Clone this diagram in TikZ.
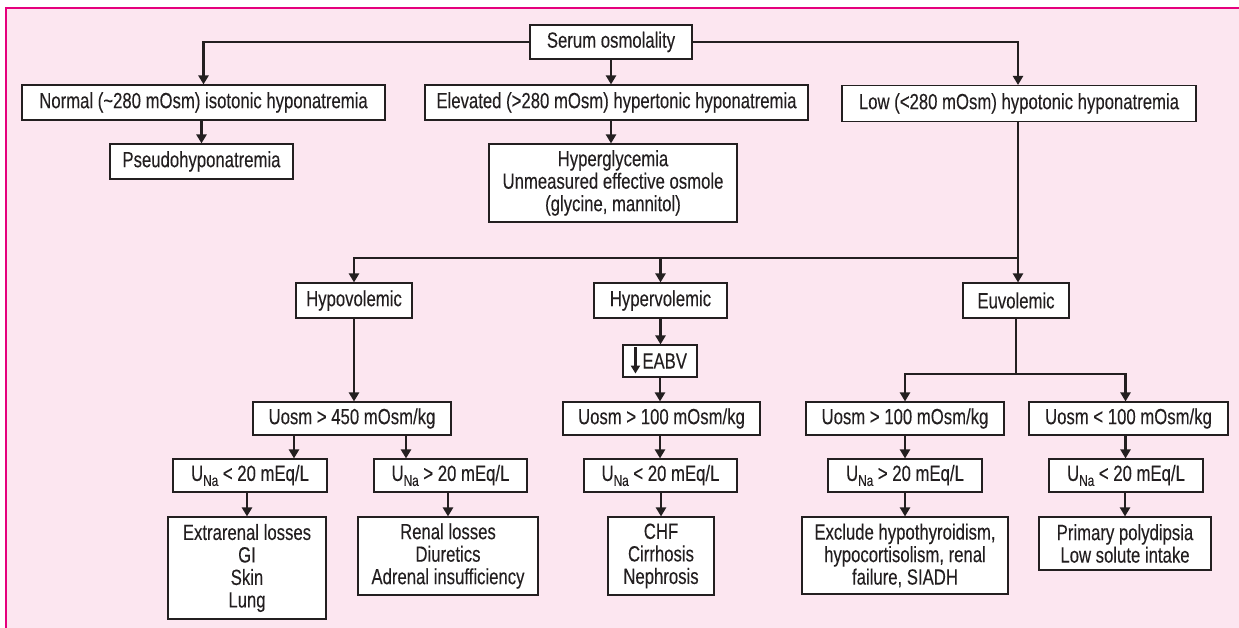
\documentclass[tikz,border=0pt]{standalone}
\usepackage{fontspec}
\setmainfont{Liberation Sans}[FakeStretch=0.76, FakeBold=0.15]
\usetikzlibrary{arrows.meta}
\definecolor{framepink}{HTML}{E5007D}
\definecolor{bgpink}{HTML}{FCE6F0}
\definecolor{ink}{HTML}{231F20}
% urinary sodium with a lowered "Na"
\newcommand{\Una}{U\raisebox{-5pt}{\fontsize{15.5}{16}\selectfont Na}}

\begin{document}
\begin{tikzpicture}[x=1pt,y=-1pt,
  box/.style={draw=ink, line width=1.1pt, fill=white, text=ink, inner sep=0pt,
              align=center, font=\fontsize{22}{22.5}\selectfont},
  link/.style={draw=ink, line width=2.4pt},
  arr/.style={link, -{Triangle[length=9pt,width=10pt]}},
]
\useasboundingbox (0,0) rectangle (1239,628);

% panel
\fill[bgpink] (6,8) rectangle (1239,628);
\draw[framepink, line width=2pt] (6,628) -- (6,8) -- (1239,8);

% first level
\node[box, minimum width=162pt, minimum height=34pt] (serum) at (611,42) {Serum osmolality};
\node[box, minimum width=363pt, minimum height=35pt] (normal) at (203.5,102.5) {Normal (\textasciitilde280 mOsm) isotonic hyponatremia};
\node[box, minimum width=383pt, minimum height=35pt] (elev) at (616.5,102.5) {Elevated (>280 mOsm) hypertonic hyponatremia};
\node[box, minimum width=354pt, minimum height=36pt] (low) at (1019,103.5) {Low (<280 mOsm) hypotonic hyponatremia};

\node[box, minimum width=183pt, minimum height=35pt] (pseudo) at (201.5,161.5) {Pseudohyponatremia};
\node[box, minimum width=248pt, minimum height=78pt] (hypergly) at (613,183) {Hyperglycemia\\Unmeasured effective osmole\\(glycine, mannitol)};

% volume status
\node[box, minimum width=116pt, minimum height=35pt] (hypo) at (354,300.5) {Hypovolemic};
\node[box, minimum width=133pt, minimum height=35pt] (hyper) at (660.5,300.5) {Hypervolemic};
\node[box, minimum width=106pt, minimum height=35pt] (euvo) at (1016,300.5) {Euvolemic};
\node[box, minimum width=74pt, minimum height=32pt, text width=72pt, align=right] (eabv) at (660,361) {EABV\hspace*{9pt}};
\draw[ink, line width=2.4pt, -{Triangle[length=8pt,width=9pt]}] ([xshift=13pt,yshift=-3pt]eabv.north west) -- ([xshift=13pt,yshift=4pt]eabv.south west);

% urine osmolality
\node[box, minimum width=198pt, minimum height=33pt] (u450) at (352,418.5) {Uosm > 450 mOsm/kg};
\node[box, minimum width=197pt, minimum height=33pt] (u100h) at (661.5,418.5) {Uosm > 100 mOsm/kg};
\node[box, minimum width=198pt, minimum height=33pt] (u100e) at (905,418.5) {Uosm > 100 mOsm/kg};
\node[box, minimum width=199pt, minimum height=33pt] (ulow) at (1128.5,418.5) {Uosm < 100 mOsm/kg};

% urine sodium
\node[box, minimum width=154pt, minimum height=33pt] (naA) at (250,475.5) {\Una{} < 20 mEq/L};
\node[box, minimum width=153pt, minimum height=33pt] (naB) at (450.5,475.5) {\Una{} > 20 mEq/L};
\node[box, minimum width=153pt, minimum height=33pt] (naC) at (660.5,475.5) {\Una{} < 20 mEq/L};
\node[box, minimum width=154pt, minimum height=33pt] (naD) at (905,475.5) {\Una{} > 20 mEq/L};
\node[box, minimum width=154pt, minimum height=33pt] (naE) at (1126,475.5) {\Una{} < 20 mEq/L};

% causes
\node[box, minimum width=158pt, minimum height=102pt] (extra) at (247,568) {Extrarenal losses\\GI\\Skin\\Lung};
\node[box, minimum width=180pt, minimum height=78pt] (renal) at (448,556) {Renal losses\\Diuretics\\Adrenal insufficiency};
\node[box, minimum width=106pt, minimum height=78pt] (chf) at (661,556) {CHF\\Cirrhosis\\Nephrosis};
\node[box, minimum width=206pt, minimum height=77pt] (excl) at (905,555.5) {Exclude hypothyroidism,\\hypocortisolism, renal\\failure, SIADH};
\node[box, minimum width=172pt, minimum height=53pt] (prim) at (1125,543.5) {Primary polydipsia\\Low solute intake};

% junction points
\coordinate (jv) at (1018,258);
\coordinate (je) at (1016,374);

% connectors: serum osmolality
\draw[arr] (serum.west) -| (normal.north);
\draw[arr] (serum.east) -| (jv |- low.north);
\draw[arr] (serum.south) -- (serum.south |- elev.north);
\draw[arr] (normal.south -| pseudo.north) -- (pseudo.north);
\draw[arr] (serum.south |- elev.south) -- (serum.south |- hypergly.north);

% connectors: volume status
\draw[link] (jv |- low.south) -- (jv);
\draw[arr] (jv) -| (hypo.north);
\draw[arr] (hyper.north |- jv) -- (hyper.north);
\draw[arr] (jv) -- (jv |- euvo.north);

% hypovolemic branch
\draw[arr] (hypo.south) -- (hypo.south |- u450.north);
\draw[arr] ([xshift=-58pt]u450.south) -- ([xshift=-58pt]u450.south |- naA.north);
\draw[arr] ([xshift=54pt]u450.south) -- ([xshift=54pt]u450.south |- naB.north);
\draw[arr] (extra.north |- naA.south) -- (extra.north);
\draw[arr] (renal.north |- naB.south) -- (renal.north);

% hypervolemic branch
\draw[arr] (hyper.south) -- (hyper.south |- eabv.north);
\draw[arr] (eabv.south) -- (eabv.south |- u100h.north);
\draw[arr] (eabv.south |- u100h.south) -- (eabv.south |- naC.north);
\draw[arr] (chf.north |- naC.south) -- (chf.north);

% euvolemic branch
\draw[link] (euvo.south) -- (je);
\draw[arr] (je) -| (u100e.north);
\draw[arr] (je) -| ([xshift=-3pt]ulow.north);
\draw[arr] (u100e.south) -- (naD.north);
\draw[arr] (naD.south) -- (excl.north);
\draw[arr] ([xshift=-3pt]ulow.south) -- ([xshift=-3pt]ulow.south |- naE.north);
\draw[arr] (prim.north |- naE.south) -- (prim.north);
\end{tikzpicture}
\end{document}
